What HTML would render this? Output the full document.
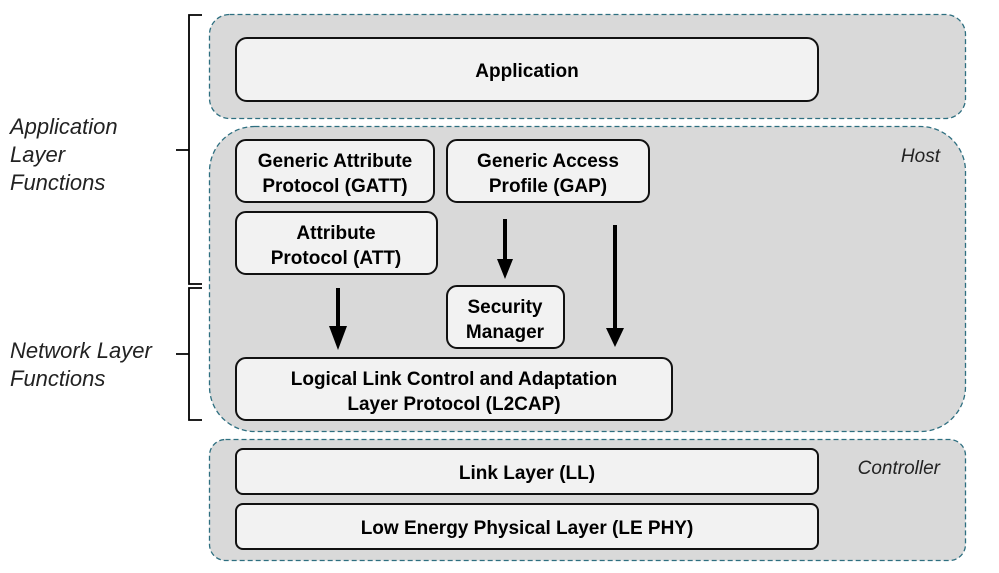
<!DOCTYPE html>
<html><head><style>body{margin:0;background:#fff}</style></head><body>
<svg width="999" height="568" viewBox="0 0 999 568" xmlns="http://www.w3.org/2000/svg" font-family="Liberation Sans, sans-serif">
<g fill="#d9d9d9" stroke="#2e6f80" stroke-width="1.3" stroke-dasharray="5,3">
<rect x="209.5" y="14.5" width="756" height="104" rx="20"/>
<rect x="209.5" y="126.5" width="756" height="305" rx="45"/>
<rect x="209.5" y="439.5" width="756" height="121" rx="16"/>
</g>
<g fill="#f2f2f2" stroke="#111" stroke-width="2">
<rect x="236" y="38" width="582" height="63" rx="11"/>
<rect x="236" y="140" width="198" height="62" rx="10"/>
<rect x="447" y="140" width="202" height="62" rx="10"/>
<rect x="236" y="212" width="201" height="62" rx="10"/>
<rect x="447" y="286" width="117" height="62" rx="10"/>
<rect x="236" y="358" width="436" height="62" rx="10"/>
<rect x="236" y="449" width="582" height="45" rx="7"/>
<rect x="236" y="504" width="582" height="45" rx="7"/>
</g>
<g font-weight="bold" font-size="19" text-anchor="middle" fill="#000">
<text x="527" y="77">Application</text>
<text x="335" y="167">Generic Attribute</text><text x="335" y="192">Protocol (GATT)</text>
<text x="548" y="167">Generic Access</text><text x="548" y="192">Profile (GAP)</text>
<text x="336" y="239">Attribute</text><text x="336" y="264">Protocol (ATT)</text>
<text x="505" y="313">Security</text><text x="505" y="338">Manager</text>
<text x="454" y="385">Logical Link Control and Adaptation</text><text x="454" y="410">Layer Protocol (L2CAP)</text>
<text x="527" y="479">Link Layer (LL)</text>
<text x="527" y="534">Low Energy Physical Layer (LE PHY)</text>
</g>
<g font-style="italic" font-size="19" fill="#222">
<text x="940" y="162" text-anchor="end">Host</text>
<text x="940" y="474" text-anchor="end">Controller</text>
</g>
<g font-style="italic" font-size="22" fill="#222">
<text x="10" y="134">Application</text><text x="10" y="162">Layer</text><text x="10" y="190">Functions</text>
<text x="10" y="358">Network Layer</text><text x="10" y="386">Functions</text>
</g>
<g stroke="#000" stroke-width="4">
<line x1="338" y1="288" x2="338" y2="328"/>
<line x1="505" y1="219" x2="505" y2="262"/>
<line x1="615" y1="225" x2="615" y2="330"/>
</g>
<g fill="#000">
<polygon points="329,326 347,326 338,350"/>
<polygon points="497,259 513,259 505,279"/>
<polygon points="606,328 624,328 615,347"/>
</g>
<g fill="none" stroke="#000" stroke-width="1.8">
<path d="M202,15 H189 V284 H202 M189,150 H176"/>
<path d="M202,288 H189 V420 H202 M189,354 H176"/>
</g>
</svg>
</body></html>
